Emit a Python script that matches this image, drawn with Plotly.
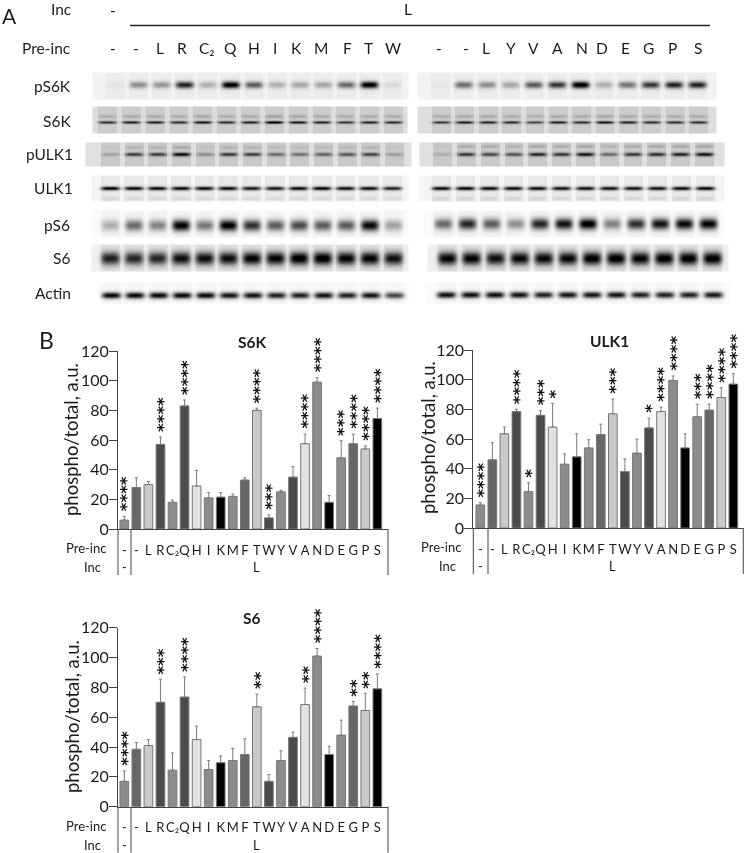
import numpy as np
import plotly.graph_objects as go

# ---------- chart data ----------
PRE_INC = ["-", "-", "L", "R", "C₂", "Q", "H", "I", "K", "M", "F", "T", "W", "Y", "V", "A", "N", "D", "E", "G", "P", "S"]
S6K_VALUES = [6, 28, 30, 57, 18, 83, 29, 21, 21.5, 22, 33, 80, 7.5, 25, 35, 57.5, 99, 18, 48, 57.5, 54, 74.5]
S6K_TOPS = [8.5, 34.5, 32, 62, 19.5, 87, 39.5, 24.5, 24.5, 23.5, 34.5, 81.5, 9.5, 26, 42, 64, 102, 22.5, 59.5, 64, 56, 81.5]
S6K_STARS = [4, 0, 0, 4, 0, 4, 0, 0, 0, 0, 0, 4, 3, 0, 0, 4, 4, 0, 3, 4, 4, 4]
ULK1_VALUES = [15.5, 46, 63.5, 78.5, 24.5, 76, 68, 43, 48, 54, 63, 77, 38, 50.5, 67.5, 78.5, 99.5, 54, 75, 79.5, 88, 97]
ULK1_TOPS = [17, 57.5, 68, 80, 30.5, 79, 84, 50, 63.5, 59.5, 70, 87, 46.5, 60, 74, 81.5, 102.5, 63.5, 83.5, 83.5, 94.5, 104]
ULK1_STARS = [4, 0, 0, 4, 1, 3, 1, 0, 0, 0, 0, 3, 0, 0, 1, 4, 4, 0, 3, 4, 4, 4]
S6_VALUES = [17, 38.5, 41, 70, 24.5, 73.5, 45, 25, 29.5, 31, 35, 67, 17, 31, 46.5, 68.5, 101, 35, 48, 67.5, 64.5, 79]
S6_TOPS = [24, 43, 45, 85.5, 36, 87, 54, 31, 34, 39, 45.5, 75.5, 21.5, 37.5, 50, 79.5, 106, 40.5, 58, 70.5, 76, 89]
S6_STARS = [4, 0, 0, 3, 0, 4, 0, 0, 0, 0, 0, 2, 0, 0, 0, 2, 4, 0, 0, 2, 2, 4]
Y_TICKS = [0, 20, 40, 60, 80, 100, 120]

# ---------- blot band intensities (0 = none, 1 = black) ----------
LANES_LEFT = ["-", "-", "L", "R", "C₂", "Q", "H", "I", "K", "M", "F", "T", "W"]
LANES_RIGHT = ["-", "-", "L", "Y", "V", "A", "N", "D", "E", "G", "P", "S"]
PS6K_L = [.03, .38, .34, .8, .24, .98, .58, .24, .28, .28, .52, .98, .08]
PS6K_R = [.02, .5, .38, .28, .58, .72, 1, .24, .48, .72, .8, .8]
S6K_L = [.62, .68, .68, .62, .72, .62, .66, .85, .72, .66, .58, .66, .62]
S6K_R = [.58, .68, .66, .62, .52, .68, .62, .72, .66, .62, .62, .62]
PULK1_L = [.16, .55, .55, .75, .25, .58, .55, .38, .36, .42, .46, .52, .18]
PULK1_R = [.12, .58, .52, .48, .66, .58, .72, .38, .58, .62, .66, .72]
ULK1_L = [.92, .88, .88, .88, .88, .88, .82, .82, .88, .9, .85, .85, .78]
ULK1_R = [.88, .9, .88, .88, .88, .85, .85, .85, .85, .85, .88, .9]
PS6_L = [.28, .55, .45, .98, .5, 1, .78, .6, .68, .6, .6, .95, .33]
PS6_R = [.55, .82, .6, .4, .82, .9, 1, .45, .78, .9, .94, .97]
S6_L = [.78, .75, .75, .85, .85, .85, .9, .9, .95, .95, .9, .9, .84]
S6_R = [.9, .9, .84, .88, .88, .88, .94, .94, .9, .94, .94, .94]
ACTIN_L = [.95, .95, .95, .95, .95, .9, .9, .85, .85, .9, .85, .9, .7]
ACTIN_R = [.92, .92, .92, .9, .85, .9, .9, .9, .85, .85, .85, .88]

W, H = 745, 853
FONT = "Lato"
INK = "#1c1c1c"
BAR_COLORS = ["#8c8c8c", "#666666", "#c9c9c9", "#4b4b4b", "#8c8c8c", "#4b4b4b", "#e2e2e2", "#8c8c8c", "#000000",
              "#8c8c8c", "#666666", "#c9c9c9", "#4b4b4b", "#8c8c8c", "#4b4b4b", "#e2e2e2", "#8c8c8c", "#000000",
              "#8c8c8c", "#666666", "#c9c9c9", "#000000"]

fig = go.Figure()

# full-page pixel axes for panel A and all free-standing labels
fig.update_layout(
    xaxis9=dict(domain=[0, 1], range=[0, W], visible=False, fixedrange=True, automargin=False, anchor="y9"),
    yaxis9=dict(domain=[0, 1], range=[H, 0], visible=False, fixedrange=True, automargin=False, anchor="x9"),
)

# strip geometry: values, x0, x1, top, bottom, first lane x, last lane x, band y, half thick,
# half width, background, lane background, extra band (offset, weight)
STRIPS = [
    (PS6K_L, 93, 408, 73, 99, 115, 392, 84.5, 3.4, 9, .05, .025, (0, 0)),
    (PS6K_R, 418, 716, 73, 99, 440, 697, 84.5, 3.4, 9, .05, .025, (0, 0)),
    (S6K_L, 93, 407, 107, 133, 107, 393, 122, 1.4, 9, .13, .07, (-6, .22)),
    (S6K_R, 418, 716, 107, 133, 441, 698, 122, 1.4, 9, .13, .07, (-6, .22)),
    (PULK1_L, 86, 411, 143, 166, 110, 394, 154, 1.9, 9, .12, .09, (-7, .18)),
    (PULK1_R, 420, 724, 143, 166, 442, 704, 154, 1.9, 9, .12, .09, (-8, .22)),
    (ULK1_L, 92, 408, 176, 201, 110, 392, 188, 1.9, 9.5, .04, .05, (10, .08)),
    (ULK1_R, 419, 724, 176, 201, 441, 705, 188, 1.9, 9.5, .04, .05, (10, .1)),
    (PS6_L, 92, 408, 211, 237, 110, 393, 225, 5.6, 9, .02, .02, (0, 0)),
    (PS6_R, 424, 724, 211, 237, 443, 708, 223.5, 5.6, 9, .02, .02, (0, 0)),
    (S6_L, 92, 408, 245, 271, 110, 393, 258, 6.5, 9.5, .06, .05, (0, 0)),
    (S6_R, 428, 728, 245, 271, 447, 712, 258, 6.5, 9.5, .06, .05, (0, 0)),
    (ACTIN_L, 100, 408, 283, 303, 111, 394, 295, 3.2, 9.5, .02, .01, (0, 0)),
    (ACTIN_R, 426, 730, 283, 303, 446, 713, 294.5, 3.2, 9.5, .02, .01, (0, 0)),
]
for vals, x0, x1, top, bot, first, last, yc, hh, hw, bg, lane_bg, (off, wt) in STRIPS:
    xs = np.arange(x0, x1 + 1)
    ys = np.arange(top, bot + 1)
    lanes = np.linspace(first, last, len(vals))
    z = np.full((len(ys), len(xs)), bg, dtype=float)
    XX, YY = np.meshgrid(xs, ys)
    for c, v in zip(lanes, vals):
        dx = np.abs(XX - c) / hw
        prof = np.exp(-dx ** 4)
        z += lane_bg * (dx < 1.05)
        z += v * prof * np.exp(-((YY - yc) / hh) ** 2)
        if wt:
            z += v * wt * prof * np.exp(-((YY - yc - off) / 1.6) ** 2)
    fig.add_trace(go.Heatmap(x=xs, y=ys, z=np.clip(z, 0, 1), zmin=0, zmax=1, showscale=False,
                             colorscale=[[0, "#ffffff"], [1, "#000000"]], hoverinfo="skip",
                             xaxis="x9", yaxis="y9"))

annotations = []
shapes = []


def page_text(x, y, text, size=15, anchor="center", bold=False, family=FONT, angle=0):
    annotations.append(dict(x=x, y=y, xref="x9", yref="y9", text=f"<b>{text}</b>" if bold else text,
                            showarrow=False, xanchor=anchor, yanchor="middle", textangle=angle,
                            font=dict(family=family, size=size, color=INK)))


# panel A labels
page_text(9, 15, "A", size=21)
page_text(46, 340, "B", size=23)
page_text(61, 9, "Inc", size=15.5)
page_text(113, 10, "-", size=15.5)
page_text(408, 9, "L", size=15.5)
page_text(72.5, 48, "Pre-inc", size=15.5, anchor="right")
shapes.append(dict(type="line", xref="x9", yref="y9", x0=130, x1=710, y0=25.5, y1=25.5,
                   line=dict(color="#222222", width=1.5)))
for lab, px in zip(LANES_LEFT, [113, 136, 160, 182, 207, 230, 254, 275, 296, 321, 347, 368, 393]):
    page_text(px, 48, lab, size=15.5)
for lab, px in zip(LANES_RIGHT, [439, 466, 486, 511, 533, 557, 582, 602, 625, 648, 672, 698]):
    page_text(px, 48, lab, size=15.5)
for lab, rx, y in [("pS6K", 73, 86), ("S6K", 73, 121), ("pULK1", 75, 154), ("ULK1", 75, 188),
                   ("pS6", 72, 225), ("S6", 72, 258), ("Actin", 73, 293)]:
    page_text(rx, y, lab, size=15.5, anchor="right")

# panels B
PANELS = [
    ("S6K", S6K_VALUES, S6K_TOPS, S6K_STARS, 118, 388, 124.3, 351, 529, 131, 252, 342, 71, 440),
    ("ULK1", ULK1_VALUES, ULK1_TOPS, ULK1_STARS, 473.3, 743.3, 480.3, 350, 528, 488, 609, 341, 428, 438),
    ("S6", S6_VALUES, S6_TOPS, S6_STARS, 118, 388, 124.3, 627.7, 806.7, 131, 252, 618, 72, 717),
]
STEP = 12.05
for i, (name, vals, tops, stars, left, right, first, ytop, ybot, divider, title_x, title_y, ylab_x, ylab_y) in enumerate(PANELS):
    n = i + 1
    xn, yn = f"x{n}" if n > 1 else "x", f"y{n}" if n > 1 else "y"
    idx = list(range(len(vals)))
    to_idx = lambda px: (px - first) / STEP
    fig.add_trace(go.Bar(
        x=idx, y=vals, width=0.72, xaxis=xn, yaxis=yn, name=name, showlegend=False,
        marker=dict(color=BAR_COLORS, line=dict(color="#777777", width=1)),
        error_y=dict(type="data", symmetric=False, array=[t - v for t, v in zip(tops, vals)],
                     arrayminus=[0] * len(vals), color="#7a7a7a", thickness=1, width=1.5),
    ))
    key = "" if n == 1 else str(n)
    fig.update_layout(**{
        f"xaxis{key}": dict(domain=[left / W, right / W], range=[to_idx(left), to_idx(right)], anchor=yn,
                            tickmode="array", tickvals=idx, ticktext=PRE_INC, ticks="outside", ticklen=9,
                            tickcolor="rgba(0,0,0,0)", tickangle=0, showgrid=False, zeroline=False,
                            automargin=False, showline=True, linecolor="#444444", linewidth=1,
                            tickfont=dict(family=FONT, size=13, color=INK), fixedrange=True),
        f"yaxis{key}": dict(domain=[1 - ybot / H, 1 - ytop / H], range=[0, 120], anchor=xn,
                            tickmode="array", tickvals=Y_TICKS, ticks="outside", ticklen=8, tickcolor="#444444",
                            ticklabelstandoff=-3,
                            automargin=False, showgrid=False, zeroline=False, showline=True,
                            linecolor="#444444", linewidth=1,
                            tickfont=dict(family=FONT, size=16, color=INK), fixedrange=True),
    })
    # chart title, y title and row labels
    page_text(title_x, title_y, name, size=15.5, bold=True)
    page_text(ylab_x, ylab_y, "phospho/total, a.u.", size=18.5, angle=-90)
    page_text(left - 10, ybot + 19, "Pre-inc", size=13, anchor="right")
    page_text(left - 15, ybot + 38, "Inc", size=13, anchor="right")
    for xv, lab in [(0, "-"), ((idx[1] + idx[-1]) / 2, "L")]:
        annotations.append(dict(x=xv, y=ybot + 38, xref=xn, yref="y9", text=lab, showarrow=False,
                                xanchor="center", yanchor="middle",
                                font=dict(family=FONT, size=13, color=INK)))
    for px in (left, divider, right):
        shapes.append(dict(type="line", xref="x9", yref="y9", x0=px, x1=px, y0=ybot, y1=ybot + 46,
                           line=dict(color="#444444", width=1)))
    # significance stars stacked above the error bars
    for xv, top, k in zip(idx, tops, stars):
        if k:
            annotations.append(dict(x=xv, y=top, xref=xn, yref=yn, text="<b>" + "*" * k + "</b>", textangle=-90,
                                    showarrow=False, xanchor="center", yanchor="bottom", xshift=3, yshift=3,
                                    font=dict(family="DejaVu Sans", size=16.6, color="#111111")))

fig.update_layout(width=W, height=H, margin=dict(l=0, r=0, t=0, b=0, autoexpand=False), paper_bgcolor="white",
                  plot_bgcolor="rgba(0,0,0,0)", showlegend=False, annotations=annotations, shapes=shapes,
                  bargap=0.28)
fig.write_html("out.html",
               post_script="document.body.style.margin='0';document.body.style.overflow='hidden';"
                           "document.body.style.filter='grayscale(1)';",
               config={"displayModeBar": False})
